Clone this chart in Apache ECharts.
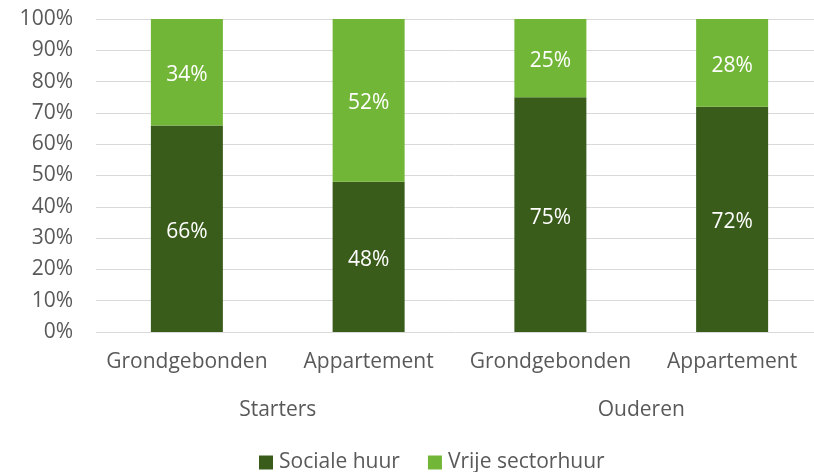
<!DOCTYPE html>
<html>
<head>
<meta charset="utf-8">
<script src="https://cdn.jsdelivr.net/npm/echarts@6/dist/echarts.min.js"></script>
<style>html,body{margin:0;padding:0;background:#fff}#c{width:814px;height:472px}</style>
</head>
<body>
<div id="c"></div>
<script>
const categories = ['Grondgebonden', 'Appartement', 'Grondgebonden', 'Appartement'];
const groups = ['Starters', 'Ouderen'];
const socialeHuur = [66, 48, 75, 72];
const vrijeSectorhuur = [34, 52, 25, 28];
const yTicks = [0, 10, 20, 30, 40, 50, 60, 70, 80, 90, 100];

const FONT = 'Open Sans';
const TXT = '#595959';
const FS = 21;
const chart = echarts.init(document.getElementById('c'));
chart.setOption({
  animation: false,
  textStyle: { fontFamily: FONT },
  grid: { left: 96, width: 727, top: 19, height: 313, outerBoundsMode: 'none', containLabel: false },
  legend: {
    top: 447, left: 254, itemWidth: 14, itemHeight: 14, itemGap: 28,
    icon: 'rect',
    textStyle: { fontFamily: FONT, fontSize: FS, color: TXT, padding: [0, 0, 0, 1] },
    data: ['Sociale huur', 'Vrije sectorhuur']
  },
  xAxis: [
    {
      type: 'category', data: categories, position: 'bottom',
      axisLine: { show: false }, axisTick: { show: false },
      axisLabel: { color: TXT, fontSize: FS, fontFamily: FONT, margin: 20, interval: 0 }
    },
    {
      type: 'category', data: groups, position: 'bottom', offset: 47,
      axisLine: { show: false }, axisTick: { show: false },
      axisLabel: { color: TXT, fontSize: FS, fontFamily: FONT, margin: 21 }
    }
  ],
  yAxis: {
    type: 'value', min: yTicks[0], max: yTicks[yTicks.length - 1], interval: 10,
    axisLine: { show: false }, axisTick: { show: false },
    axisLabel: { formatter: '{value}%', color: TXT, fontSize: FS, fontFamily: FONT, margin: 23 },
    splitLine: { lineStyle: { color: '#D9D9D9', width: 1 } }
  },
  series: [
    {
      name: 'Sociale huur', type: 'bar', stack: 's', xAxisIndex: 0, barWidth: 72,
      data: socialeHuur, itemStyle: { color: '#395C1A' },
      label: { show: true, position: 'inside', offset: [0, 3], color: '#fff', fontSize: FS, fontFamily: FONT, formatter: '{c}%' }
    },
    {
      name: 'Vrije sectorhuur', type: 'bar', stack: 's', xAxisIndex: 0, barWidth: 72,
      data: vrijeSectorhuur, itemStyle: { color: '#72B637' },
      label: { show: true, position: 'inside', offset: [0, 3], color: '#fff', fontSize: FS, fontFamily: FONT, formatter: '{c}%' }
    }
  ]
});
</script>
</body>
</html>
